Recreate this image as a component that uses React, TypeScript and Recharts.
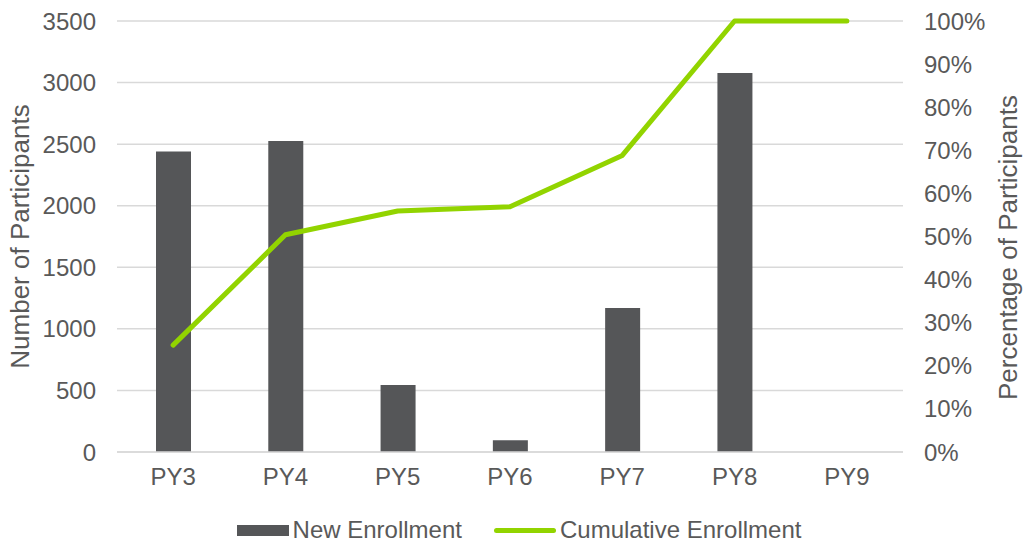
import { ComposedChart, Bar, Line, XAxis, YAxis, CartesianGrid, Legend } from 'recharts';

const years = ['PY3', 'PY4', 'PY5', 'PY6', 'PY7', 'PY8', 'PY9'];
const newEnrollment = [2440, 2525, 545, 95, 1169, 3078, 0];
const cumulativePct = [0.248, 0.504, 0.559, 0.569, 0.688, 1, 1];
const leftTicks = [0, 500, 1000, 1500, 2000, 2500, 3000, 3500];
const rightTicks = [0, 0.1, 0.2, 0.3, 0.4, 0.5, 0.6, 0.7, 0.8, 0.9, 1];

const data = years.map((name, i) => ({
  name,
  newEnrollment: newEnrollment[i],
  cumulative: cumulativePct[i],
}));

const FONT = '"Liberation Sans", Arial, sans-serif';
const TEXT = '#595959';
const BAR = '#555658';
const GREEN = '#92d400';
const GRID = '#d9d9d9';

const tickStyle = { fill: TEXT, fontSize: 24, fontFamily: FONT };

function AxisTitle(props: any) {
  const { viewBox, value, shiftX, shiftY = 0 } = props;
  const cx = viewBox.x + shiftX;
  const cy = viewBox.y + viewBox.height / 2 + shiftY;
  return (
    <text
      x={cx}
      y={cy}
      transform={`rotate(-90, ${cx}, ${cy})`}
      textAnchor="middle"
      dominantBaseline="central"
      fill={TEXT}
      fontSize={26}
      fontFamily={FONT}
    >
      {value}
    </text>
  );
}

function LegendContent() {
  return (
    <div
      style={{
        height: 40,
        paddingTop: 16,
        paddingLeft: 12,
        boxSizing: 'border-box',
        display: 'flex',
        justifyContent: 'center',
        alignItems: 'center',
        fontFamily: FONT,
        fontSize: 24,
        color: TEXT,
        lineHeight: '24px',
      }}
    >
      <span style={{ display: 'flex', alignItems: 'center', marginRight: 32 }}>
        <span style={{ display: 'inline-block', width: 52, height: 11, background: BAR, marginRight: 4 }} />
        New Enrollment
      </span>
      <span style={{ display: 'flex', alignItems: 'center' }}>
        <span style={{ display: 'inline-block', width: 62, height: 5, borderRadius: 3, background: GREEN, marginRight: 4 }} />
        Cumulative Enrollment
      </span>
    </div>
  );
}

export default function App() {
  return (
    <div style={{ position: 'absolute', left: 0, top: 0, background: '#fff' }}>
      <ComposedChart width={1026} height={542} data={data} margin={{ top: 21, right: 0, bottom: 0, left: 0 }}>
        <CartesianGrid yAxisId="left" vertical={false} stroke={GRID} strokeWidth={1.5} />
        <XAxis
          dataKey="name"
          axisLine={{ stroke: GRID, strokeWidth: 1.5 }}
          tickLine={false}
          tickSize={0}
          tickMargin={16}
          height={50}
          tick={tickStyle}
          interval={0}
        />
        <YAxis
          yAxisId="left"
          domain={[0, 3500]}
          ticks={leftTicks}
          width={117}
          axisLine={false}
          tickLine={false}
          tickSize={0}
          tickMargin={21}
          tick={tickStyle}
          interval={0}
          label={<AxisTitle value="Number of Participants" shiftX={19.5} />}
        />
        <YAxis
          yAxisId="right"
          orientation="right"
          domain={[0, 1]}
          ticks={rightTicks}
          width={123}
          axisLine={false}
          tickLine={false}
          tickSize={0}
          tickMargin={21}
          tick={{ ...tickStyle, textAnchor: 'start' }}
          interval={0}
          tickFormatter={(v: number) => `${Math.round(v * 100)}%`}
          label={<AxisTitle value="Percentage of Participants" shiftX={104.5} shiftY={11} />}
        />
        <Legend verticalAlign="bottom" content={<LegendContent />} />
        <Bar yAxisId="left" dataKey="newEnrollment" name="New Enrollment" fill={BAR} barSize={35} isAnimationActive={false} />
        <Line
          yAxisId="right"
          dataKey="cumulative"
          name="Cumulative Enrollment"
          type="linear"
          stroke={GREEN}
          strokeWidth={5}
          strokeLinecap="round"
          strokeLinejoin="round"
          dot={false}
          activeDot={false}
          isAnimationActive={false}
        />
      </ComposedChart>
    </div>
  );
}
